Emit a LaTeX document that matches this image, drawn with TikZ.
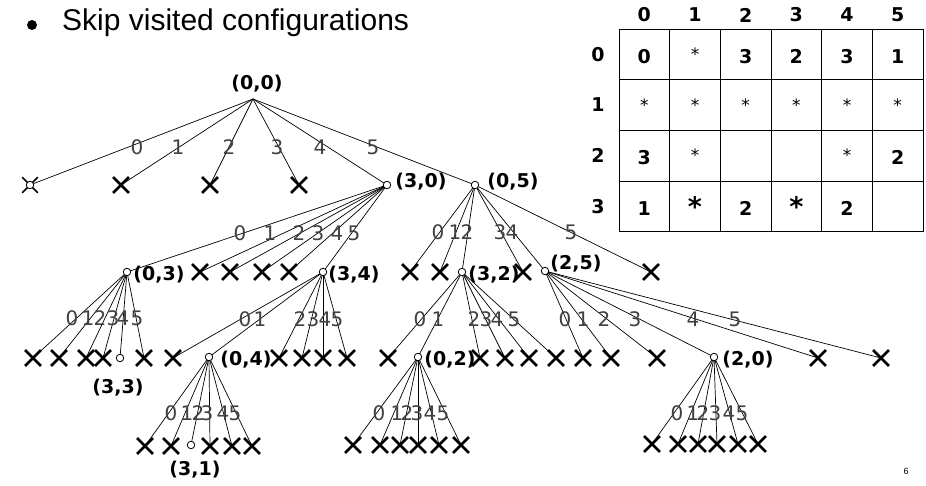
\documentclass[tikz,border=0pt]{standalone}
\usepackage{fontspec}
\setmainfont{Liberation Sans}
\newfontfamily\dejavu{DejaVu Sans}
\usetikzlibrary{shapes.misc,backgrounds}

\tikzset{
  vis/.style={circle,draw,fill=white,inner sep=0pt,minimum size=7.5pt,line width=0.8pt},
  dead/.style={cross out,draw,line width=2.8pt,inner sep=0pt,minimum size=13pt},
  conf/.style={font=\dejavu\bfseries\fontsize{19}{19}\selectfont,inner sep=0pt},
  choice/.style={font=\dejavu\fontsize{20}{20}\selectfont,text=black!75,inner sep=0pt},
  edge/.style={line width=0.7pt},
  tabline/.style={line width=0.9pt},
  cellnum/.style={font=\dejavu\bfseries\fontsize{19}{19}\selectfont,inner sep=0pt},
  smallstar/.style={font=\dejavu\fontsize{17}{17}\selectfont,inner sep=0pt,anchor=base},
  bigstar/.style={font=\dejavu\bfseries\fontsize{27}{27}\selectfont,inner sep=0pt,anchor=base},
}

\begin{document}
\begin{tikzpicture}[x=1pt,y=-1pt]
\useasboundingbox (0,0) rectangle (926,486);

% heading
\fill (32,25) circle (5pt);
\node[anchor=base west,font=\fontsize{30}{30}\selectfont,inner sep=0pt] (title) at (62,31) {Skip visited configurations};
\node[font=\fontsize{9}{9}\selectfont,inner sep=0pt] (pg) at (906,471) {6};

% ---------- search tree ----------
\coordinate (r) at (253,99);

% level 1
\node[dead,line width=1.6pt,minimum size=14pt] (a0) at (30,185) {};
\node[vis] (a0c) at (30,185) {};
\foreach \n/\x in {a1/121,a2/210,a3/299} \node[dead] (\n) at (\x,185) {};
\node[vis] (n30) at (387,185) {};
\node[vis] (n05) at (475,185) {};

% level 2
\foreach \n/\x in {b1/200,b2/230,b3/262,b4/289,c0/410,c1/440,c3/523,c5/651}
  \node[dead] (\n) at (\x,272) {};
\node[vis] (n03) at (127,272) {};
\node[vis] (n34) at (323,272) {};
\node[vis] (n32) at (462,272) {};
\node[vis] (n25) at (545,271) {};

% level 3
\foreach \n/\x in {d0/33,d1/59,d2/86,d3/103,d5/144,e0/173,e2/279,e3/302,e4/323,e5/347,
                   f0/388,f2/480,f3/505,f4/529,f5/556,g0/583,g1/611,g2/657,g4/818,g5/881}
  \node[dead] (\n) at (\x,358) {};
\node[vis] (n33) at (120,358) {};
\node[vis] (n04) at (209,357) {};
\node[vis] (n02) at (418,357) {};
\node[vis] (n20) at (714,357) {};

% level 4
\foreach \n/\x in {h0/145,h1/171,h3/210,h4/232,h5/252} \node[dead] (\n) at (\x,446) {};
\node[vis] (n31) at (191,445) {};
\foreach \n/\x in {i0/353,i1/380,i2/400,i3/418,i4/439,i5/461} \node[dead] (\n) at (\x,445) {};
\foreach \n/\x in {j0/652,j1/678,j2/698,j3/717,j4/738,j5/758} \node[dead] (\n) at (\x,444) {};

% connectors, drawn underneath the markers
\begin{scope}[on background layer]
  \foreach \c in {a0,a1,a2,a3,n30,n05} \draw[edge] (r) -- (\c.center);
  \foreach \c in {n03,b1,b2,b3,b4,n34} \draw[edge] (n30.center) -- (\c.center);
  \foreach \c in {c0,c1,n32,c3,n25,c5} \draw[edge] (n05.center) -- (\c.center);
  \foreach \c in {d0,d1,d2,d3,n33,d5} \draw[edge] (n03.center) -- (\c.center);
  \foreach \c in {e0,n04,e2,e3,e4,e5} \draw[edge] (n34.center) -- (\c.center);
  \foreach \c in {f0,n02,f2,f3,f4,f5} \draw[edge] (n32.center) -- (\c.center);
  \foreach \c in {g0,g1,g2,n20,g4,g5} \draw[edge] (n25.center) -- (\c.center);
  \foreach \c in {h0,h1,n31,h3,h4,h5} \draw[edge] (n04.center) -- (\c.center);
  \foreach \c in {i0,i1,i2,i3,i4,i5} \draw[edge] (n02.center) -- (\c.center);
  \foreach \c in {j0,j1,j2,j3,j4,j5} \draw[edge] (n20.center) -- (\c.center);
\end{scope}

% configuration names
\node[conf] (t00) at (257,84) {(0,0)};
\node[conf] (t30) at (421,182) {(3,0)};
\node[conf] (t05) at (513,182) {(0,5)};
\node[conf] (t03) at (159,275) {(0,3)};
\node[conf] (t34) at (354,275) {(3,4)};
\node[conf] (t32) at (494,275) {(3,2)};
\node[conf] (t25) at (576,264) {(2,5)};
\node[conf] (t33) at (118,388) {(3,3)};
\node[conf] (t04) at (246,360) {(0,4)};
\node[conf] (t02) at (450,360) {(0,2)};
\node[conf] (t20) at (748,360) {(2,0)};
\node[conf] (t31) at (195,470) {(3,1)};

% choice numbers on the branches
\foreach \x/\d in {137/0,178/1,229/2,277/3,320/4,373/5} \node[choice] (ka\d) at (\x,147) {\d};
\foreach \x/\d in {240/0,270/1,299/2,318/3,337/4,354/5} \node[choice] (kb\d) at (\x,233) {\d};
\foreach \x/\d in {438/0,455/1,467/2,500/3,512/4,571/5} \node[choice] (kc\d) at (\x,232) {\d};
\foreach \x/\d in {72/0,88/1,100/2,113/3,123/4,137/5} \node[choice] (kd\d) at (\x,318) {\d};
\foreach \x/\d in {245/0,260/1,300/2,313/3,325/4,337/5} \node[choice] (ke\d) at (\x,319) {\d};
\foreach \x/\d in {420/0,438/1,474/2,486/3,497/4,514/5} \node[choice] (kf\d) at (\x,319) {\d};
\foreach \x/\d in {565/0,583/1,604/2,635/3,693/4,735/5} \node[choice] (kg\d) at (\x,319) {\d};
\foreach \x/\d in {171/0,187/1,198/2,207/3,223/4,235/5} \node[choice] (kh\d) at (\x,413) {\d};
\foreach \x/\d in {379/0,397/1,407/2,417/3,430/4,443/5} \node[choice] (ki\d) at (\x,413) {\d};
\foreach \x/\d in {677/0,693/1,703/2,715/3,729/4,742/5} \node[choice] (kj\d) at (\x,413) {\d};

% ---------- board table ----------
\foreach \i in {0,...,6} \draw[tabline] ({619+50.667*\i},29) -- ({619+50.667*\i},231.67);
\foreach \j in {0,...,4} \draw[tabline] (619,{29+50.667*\j}) -- (923,{29+50.667*\j});
\foreach \i in {0,...,5} \node[cellnum] (ch\i) at ({644.33+50.667*\i},15) {\i};
\foreach \j in {0,...,3} \node[cellnum] (rh\j) at (598,{54.33+50.667*\j}) {\j};
\foreach \i/\j/\v in {0/0/0,2/0/3,3/0/2,4/0/3,5/0/1,0/2/3,5/2/2,0/3/1,2/3/2,4/3/2}
  \node[cellnum] (c\i\j) at ({644.33+50.667*\i},{56.5+50.667*\j}) {\v};
\foreach \i/\j in {1/0,0/1,1/1,2/1,3/1,4/1,5/1,1/2,4/2}
  \node[smallstar] (s\i\j) at ({644.33+50.667*\i},{60.5+50.667*\j}) {*};
\foreach \i in {1,3}
  \node[bigstar] (b\i) at ({644.33+50.667*\i},217) {*};
\end{tikzpicture}
\end{document}
